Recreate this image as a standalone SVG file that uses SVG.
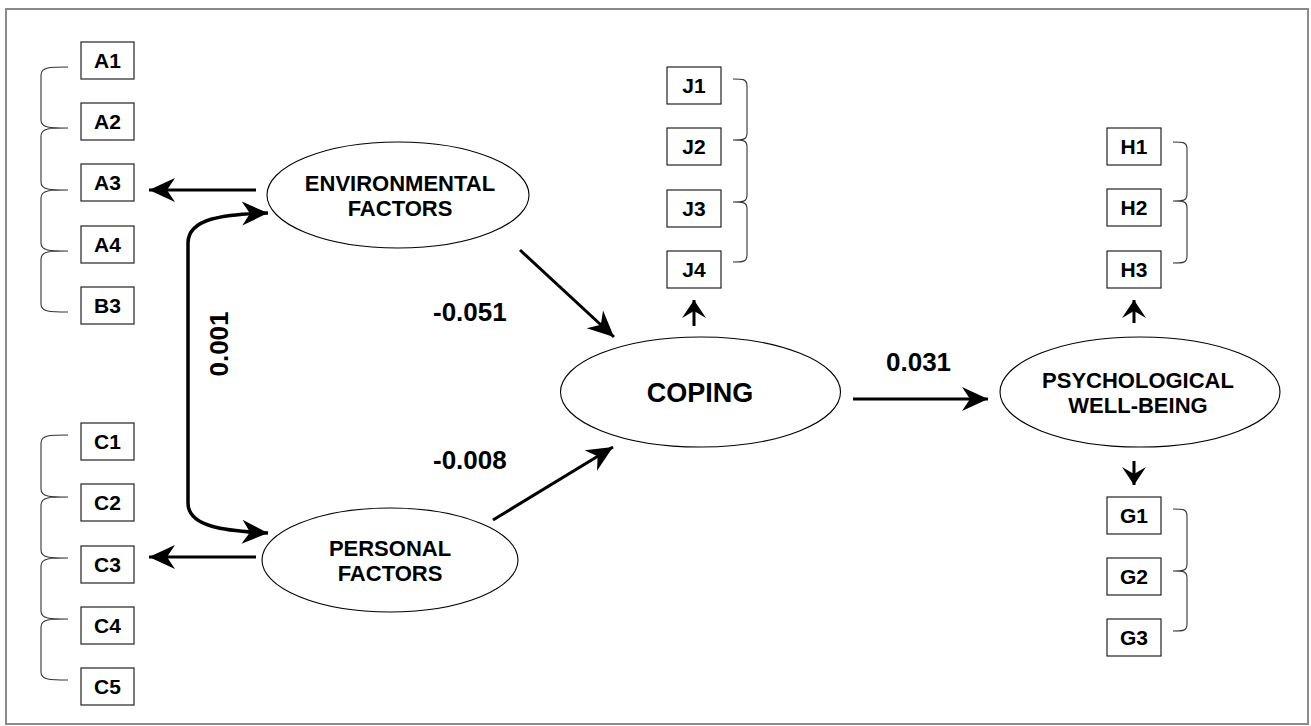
<svg xmlns="http://www.w3.org/2000/svg" width="1311" height="726" viewBox="0 0 1311 726">
<defs>
<style>
.frame{fill:#fff;stroke:#8a8a8a;stroke-width:2}
.box{fill:#fff;stroke:#222;stroke-width:1.2}
.bl{font-family:"Liberation Sans",Arial,sans-serif;font-weight:bold;font-size:21px;text-anchor:middle;fill:#000}
.br{fill:none;stroke:#333;stroke-width:1.1}
.el{fill:#fff;stroke:#000;stroke-width:1.1}
.et{font-family:"Liberation Sans",Arial,sans-serif;font-weight:bold;font-size:22px;text-anchor:middle;fill:#000}
.ct{font-family:"Liberation Sans",Arial,sans-serif;font-weight:bold;font-size:27px;text-anchor:middle;fill:#000}
.ln{fill:none;stroke:#000;stroke-width:3}
.val{font-family:"Liberation Sans",Arial,sans-serif;font-weight:bold;font-size:26px;fill:#000}
</style>
<marker id="ah" markerUnits="userSpaceOnUse" markerWidth="40" markerHeight="40" viewBox="-30 -20 40 40" refX="0" refY="0" orient="auto"><path d="M0,0 L-26,-12 L-18,0 L-26,12 Z" fill="#000"/></marker>
<marker id="ah2" markerUnits="userSpaceOnUse" markerWidth="40" markerHeight="40" viewBox="-30 -20 40 40" refX="0" refY="0" orient="auto-start-reverse"><path d="M0,0 L-26,-12 L-18,0 L-26,12 Z" fill="#000"/></marker>
<marker id="as" markerUnits="userSpaceOnUse" markerWidth="40" markerHeight="40" viewBox="-30 -20 40 40" refX="0" refY="0" orient="auto"><path d="M0,0 L-18,-12 L-11,0 L-18,12 Z" fill="#000"/></marker>
</defs>
<rect class="frame" x="6" y="9" width="1302" height="715"/>

<g id="braces">
<path class="br" d="M68,67 C50,67 41,67 41,75 L41,120 C41,128 50,128 68,128 M68,128 C50,128 41,128 41,136 L41,182 C41,190 50,190 68,190 M68,190 C50,190 41,190 41,198 L41,243 C41,251 50,251 68,251 M68,251 C50,251 41,251 41,259 L41,304 C41,312 50,312 68,312"/>
<path class="br" d="M68,435 C50,435 41,435 41,443 L41,489 C41,497 50,497 68,497 M68,497 C50,497 41,497 41,505 L41,550 C41,558 50,558 68,558 M68,558 C50,558 41,558 41,566 L41,611 C41,619 50,619 68,619 M68,619 C50,619 41,619 41,627 L41,672 C41,680 50,680 68,680"/>
<path class="br" d="M733,79 C743,79 747,79 747,86 L747,133 C747,140 743,140 733,140 M733,140 C743,140 747,140 747,147 L747,195 C747,202 743,202 733,202 M733,202 C743,202 747,202 747,209 L747,255 C747,262 743,262 733,262"/>
<path class="br" d="M1173,142 C1183,142 1187,142 1187,149 L1187,194 C1187,201 1183,201 1173,201 M1173,201 C1183,201 1187,201 1187,208 L1187,256 C1187,263 1183,263 1173,263"/>
<path class="br" d="M1173,509 C1183,509 1187,509 1187,516 L1187,564 C1187,571 1183,571 1173,571 M1173,571 C1183,571 1187,571 1187,578 L1187,624 C1187,631 1183,631 1173,631"/>
</g>

<g id="connectors">
<path class="ln" d="M256,190 L149,190" marker-end="url(#ah)"/>
<path class="ln" d="M256,557 L149,557" marker-end="url(#ah)"/>
<path class="ln" style="stroke-width:3.5" d="M268,213 C225,214 188,218 188,243 L188,503 C188,527 225,531 268,533" marker-start="url(#ah2)" marker-end="url(#ah2)"/>
<path class="ln" d="M520,250 L614,337" marker-end="url(#ah)"/>
<path class="ln" d="M493,520 L613,447" marker-end="url(#ah)"/>
<path class="ln" d="M694,326 L694,300" marker-end="url(#as)"/>
<path class="ln" d="M853,399 L988,399" marker-end="url(#ah)"/>
<path class="ln" d="M1134,323 L1134,300" marker-end="url(#as)"/>
<path class="ln" d="M1134,461 L1134,485" marker-end="url(#as)"/>
</g>

<g id="labels">
<text class="val" transform="translate(228,344) rotate(-90)" text-anchor="middle">0.001</text>
<text class="val" x="433" y="321">-0.051</text>
<text class="val" x="433" y="469">-0.008</text>
<text class="val" x="886" y="371">0.031</text>
</g>

<g id="A1"><rect class="box" x="81" y="42" width="53" height="37"/><text class="bl" x="107.5" y="68">A1</text></g>
<g id="A2"><rect class="box" x="81" y="103" width="53" height="37"/><text class="bl" x="107.5" y="129">A2</text></g>
<g id="A3"><rect class="box" x="81" y="164" width="53" height="37"/><text class="bl" x="107.5" y="190">A3</text></g>
<g id="A4"><rect class="box" x="81" y="226" width="53" height="37"/><text class="bl" x="107.5" y="252">A4</text></g>
<g id="B3"><rect class="box" x="81" y="287" width="53" height="37"/><text class="bl" x="107.5" y="313">B3</text></g>

<g id="C1"><rect class="box" x="81" y="423" width="53" height="37"/><text class="bl" x="107.5" y="449">C1</text></g>
<g id="C2"><rect class="box" x="81" y="484" width="53" height="37"/><text class="bl" x="107.5" y="510">C2</text></g>
<g id="C3"><rect class="box" x="81" y="546" width="53" height="37"/><text class="bl" x="107.5" y="572">C3</text></g>
<g id="C4"><rect class="box" x="81" y="607" width="53" height="37"/><text class="bl" x="107.5" y="633">C4</text></g>
<g id="C5"><rect class="box" x="81" y="668" width="53" height="37"/><text class="bl" x="107.5" y="694">C5</text></g>

<g id="J1"><rect class="box" x="667" y="67" width="54" height="37"/><text class="bl" x="694" y="93">J1</text></g>
<g id="J2"><rect class="box" x="667" y="128" width="54" height="37"/><text class="bl" x="694" y="154">J2</text></g>
<g id="J3"><rect class="box" x="667" y="190" width="54" height="37"/><text class="bl" x="694" y="216">J3</text></g>
<g id="J4"><rect class="box" x="667" y="251" width="54" height="37"/><text class="bl" x="694" y="277">J4</text></g>

<g id="H1"><rect class="box" x="1107" y="128" width="54" height="37"/><text class="bl" x="1134" y="154">H1</text></g>
<g id="H2"><rect class="box" x="1107" y="189" width="54" height="37"/><text class="bl" x="1134" y="215">H2</text></g>
<g id="H3"><rect class="box" x="1107" y="251" width="54" height="37"/><text class="bl" x="1134" y="277">H3</text></g>

<g id="G1"><rect class="box" x="1107" y="497" width="54" height="37"/><text class="bl" x="1134" y="523">G1</text></g>
<g id="G2"><rect class="box" x="1107" y="558" width="54" height="37"/><text class="bl" x="1134" y="584">G2</text></g>
<g id="G3"><rect class="box" x="1107" y="619" width="54" height="37"/><text class="bl" x="1134" y="645">G3</text></g>

<g id="environmental"><ellipse class="el" cx="398" cy="195" rx="131" ry="53"/><text class="et" x="400" y="191">ENVIRONMENTAL</text><text class="et" x="400" y="216">FACTORS</text></g>
<g id="personal"><ellipse class="el" cx="390" cy="560" rx="128" ry="52"/><text class="et" x="390" y="556">PERSONAL</text><text class="et" x="390" y="581">FACTORS</text></g>
<g id="coping"><ellipse class="el" cx="700.5" cy="392" rx="140" ry="55"/><text class="ct" x="700" y="402">COPING</text></g>
<g id="wellbeing"><ellipse class="el" cx="1140" cy="392" rx="140" ry="55"/><text class="et" x="1138" y="388">PSYCHOLOGICAL</text><text class="et" x="1138" y="413">WELL-BEING</text></g>
</svg>
